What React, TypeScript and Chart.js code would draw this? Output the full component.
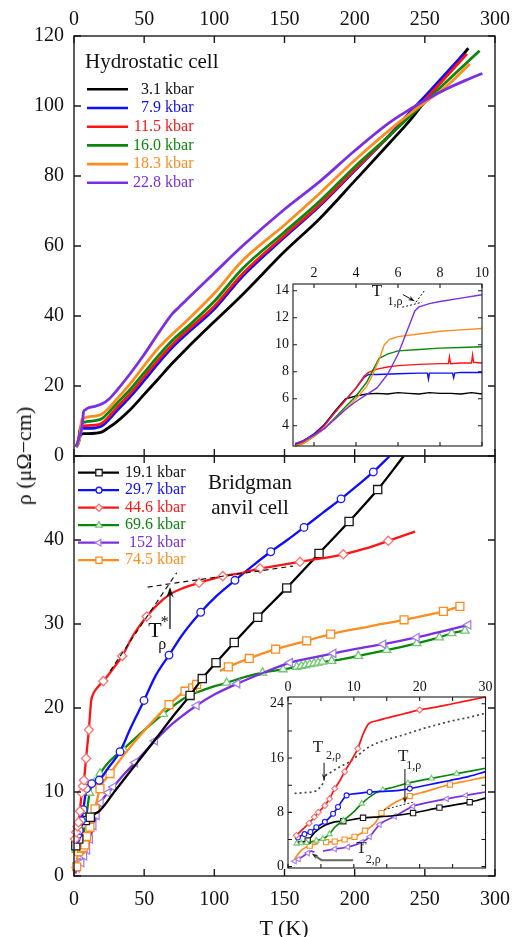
import React, { useEffect, useRef } from "react";
import { Chart, registerables } from "chart.js";

Chart.register(...registerables);

const SERIF = "'Liberation Serif', 'Times New Roman', Times, serif";

const COL_BLACK = "#000000";
const COL_BLUE = "#0d0dff";
const COL_RED = "#ff1414";
const COL_GREEN = "#0b870b";
const COL_ORANGE = "#ff8c1e";
const COL_PURPLE = "#7b2fe2";
const COL_DOT = "#444444";

// ---------- axis ticks ----------
const mainXTicks = [0, 50, 100, 150, 200, 250, 300];
const topYTicks = [0, 20, 40, 60, 80, 100, 120];
const botYTicks = [0, 10, 20, 30, 40, 50];
const botYLabels = [0, 10, 20, 30, 40];
const tiXTicks = [2, 4, 6, 8, 10];
const tiYTicks = [4, 6, 8, 10, 12, 14];
const biXTicks = [0, 5, 10, 15, 20, 25, 30];
const biXLabels = [0, 10, 20, 30];
const biYTicks = [0, 4, 8, 12, 16, 20, 24];
const biYLabels = [0, 8, 16, 24];

// ---------- hydrostatic cell (top panel) ----------
const hydroLabels = ["3.1 kbar", "7.9 kbar", "11.5 kbar", "16.0 kbar", "18.3 kbar", "22.8 kbar"];
const h31T = [1.5, 3, 4, 5, 7, 10, 15, 20, 25, 30, 40, 50, 60, 70, 80, 100, 120, 150, 175, 200, 225, 240, 250, 265, 281];
const h31R = [2.6, 3.8, 5.3, 6.1, 6.4, 6.4, 6.5, 6.9, 8.2, 9.6, 13.2, 17.6, 22.0, 26.5, 30.6, 38.4, 46.1, 58.4, 67.8, 78.6, 89.5, 96.2, 101.3, 108.6, 116.5];
const h79T = [1.5, 3, 4, 4.5, 6, 10, 15, 20, 25, 30, 40, 50, 60, 70, 80, 100, 120, 150, 175, 200, 225, 240, 250, 265, 278];
const h79R = [2.6, 3.8, 6.8, 7.8, 7.9, 7.9, 8.0, 8.6, 10.5, 12.7, 16.9, 21.6, 26.5, 31.0, 34.8, 42.0, 51.3, 62.5, 71.4, 81.5, 91.8, 98.5, 102.7, 109.3, 115.0];
const h115T = [1.5, 3, 4, 4.5, 5, 6, 10, 15, 20, 25, 30, 40, 50, 60, 70, 80, 100, 120, 150, 175, 200, 225, 240, 250, 265, 280];
const h115R = [2.6, 3.8, 6.2, 7.9, 8.3, 8.5, 8.7, 8.8, 9.4, 11.3, 13.6, 17.8, 22.6, 27.4, 31.8, 35.6, 42.8, 52.0, 63.0, 71.8, 81.8, 91.6, 97.8, 101.8, 108.3, 114.9];
const h160T = [1.5, 3, 4, 4.7, 5.2, 6, 8, 10, 15, 20, 25, 30, 40, 50, 60, 70, 80, 100, 120, 150, 175, 200, 225, 240, 250, 265, 289];
const h160R = [2.6, 3.6, 5.0, 7.5, 9.0, 9.5, 9.7, 9.9, 10.1, 10.7, 12.6, 14.8, 19.0, 23.8, 28.6, 33.0, 36.6, 44.2, 53.5, 64.0, 72.8, 82.6, 91.6, 97.3, 101.0, 106.8, 115.8];
const h183T = [1.5, 3, 4, 4.7, 5.3, 6, 7, 10, 15, 20, 25, 30, 40, 50, 60, 70, 80, 100, 120, 150, 175, 200, 225, 240, 250, 265, 282];
const h183R = [2.6, 3.7, 5.0, 7.6, 10.0, 10.6, 10.8, 11.2, 11.4, 12.0, 13.8, 16.0, 20.6, 25.8, 30.8, 34.8, 38.5, 46.5, 55.8, 66.0, 75.0, 84.5, 93.2, 98.0, 101.0, 105.5, 112.0];
const h228T = [1.5, 3, 4, 5, 6, 6.8, 8, 10, 15, 20, 25, 30, 40, 50, 60, 70, 75, 80, 100, 120, 150, 175, 200, 225, 240, 250, 265, 280, 291];
const h228R = [2.7, 4.5, 5.8, 6.8, 9.3, 12.6, 13.2, 13.7, 14.2, 14.9, 16.3, 18.5, 23.5, 29.0, 35.0, 40.6, 42.6, 44.6, 52.3, 60.0, 70.5, 78.4, 87.2, 95.3, 99.2, 101.6, 104.8, 107.5, 109.3];

// ---------- hydrostatic inset (1-10 K) ----------
const tiBlackT = [1.1, 1.5, 2.0, 2.5, 3.0, 3.5, 4.0, 4.5, 5, 5.5, 6, 6.5, 7, 7.5, 8, 8.5, 9, 9.5, 10];
const tiBlackR = [2.6, 2.9, 3.3, 4.1, 5.1, 6.0, 6.2, 6.35, 6.4, 6.35, 6.45, 6.4, 6.35, 6.45, 6.4, 6.4, 6.35, 6.45, 6.35];
const tiBlueT = [1.1, 1.5, 2.0, 2.5, 3.0, 3.5, 4.0, 4.4, 4.6, 5, 6, 7, 7.4, 7.45, 7.5, 8, 8.6, 8.65, 8.7, 9, 10];
const tiBlueR = [2.6, 2.9, 3.4, 4.1, 5.0, 5.9, 6.8, 7.6, 7.8, 7.8, 7.85, 7.9, 7.9, 7.45, 7.9, 7.9, 7.9, 7.55, 7.9, 7.95, 7.95];
const tiRedT = [1.1, 1.5, 2.0, 2.5, 3.0, 3.5, 4.0, 4.4, 4.6, 5.0, 5.5, 6.0, 7.0, 8.0, 8.4, 8.45, 8.5, 9.0, 9.5, 9.55, 9.6, 10];
const tiRedR = [2.5, 2.8, 3.3, 4.0, 5.0, 5.9, 6.8, 7.7, 7.95, 8.2, 8.35, 8.45, 8.55, 8.6, 8.6, 9.1, 8.6, 8.65, 8.65, 9.25, 8.7, 8.65];
const tiGreenT = [1.1, 1.5, 2, 2.5, 3, 3.5, 4, 4.5, 4.8, 5.1, 5.5, 6, 7, 8, 9, 10];
const tiGreenR = [2.5, 2.7, 3.2, 3.8, 4.6, 5.4, 6.2, 7.2, 8.1, 9.0, 9.3, 9.55, 9.65, 9.75, 9.8, 9.85];
const tiOrangeT = [1.1, 1.5, 2, 2.5, 3, 3.5, 4, 4.5, 4.8, 5.1, 5.35, 5.6, 6, 7, 8, 9, 10];
const tiOrangeR = [2.5, 2.7, 3.2, 3.8, 4.5, 5.2, 6.0, 6.9, 7.8, 8.9, 10.0, 10.4, 10.6, 10.8, 11.0, 11.1, 11.2];
const tiPurpleT = [1.1, 1.5, 2, 2.5, 3, 3.5, 4, 4.5, 5, 5.5, 6, 6.5, 6.8, 7, 7.5, 8, 9, 10];
const tiPurpleR = [2.7, 2.9, 3.3, 3.8, 4.5, 5.2, 5.8, 6.3, 6.8, 7.8, 9.3, 11.3, 12.5, 12.8, 13.05, 13.2, 13.45, 13.7];

// ---------- Bridgman anvil cell (bottom panel) ----------
const bridgLabels = ["19.1 kbar", "29.7 kbar", "44.6 kbar", "69.6 kbar", "152 kbar", "74.5 kbar"];
const b191T = [0.7, 1.3, 2.3, 3.4, 4.8, 6.3, 8.1, 11.6, 15, 18.5, 30, 45, 60, 70, 82.7, 91.4, 101.2, 114.2, 130.9, 151.6, 174.6, 196, 216.4, 235];
const b191R = [3.4, 3.6, 3.8, 4.4, 5.6, 6.4, 6.6, 7.0, 7.4, 7.8, 10.3, 13.5, 16.7, 18.9, 21.5, 23.5, 25.4, 27.8, 30.8, 34.3, 38.4, 42.2, 46.0, 50.0];
const b191MarkT = [1.3, 3.4, 8.1, 11.6, 82.7, 91.4, 101.2, 114.2, 130.9, 151.6, 174.6, 196, 216.4];
const b297T = [0.7, 1.5, 2.7, 3.8, 5.3, 6.6, 8.9, 10.5, 12.6, 15, 18, 25, 32.8, 40, 49.9, 58, 67.7, 78, 90.3, 102, 114.7, 127, 140.2, 152, 163.9, 177, 190.3, 202, 213.3, 225];
const b297R = [4.0, 4.4, 4.9, 5.4, 6.6, 7.9, 10.4, 10.9, 11.0, 11.1, 11.4, 13.0, 14.8, 17.5, 20.9, 23.8, 26.3, 28.9, 31.4, 33.4, 35.2, 36.9, 38.6, 40.0, 41.5, 43.2, 44.9, 46.5, 48.1, 50.0];
const b297MarkT = [1.5, 2.7, 3.8, 5.3, 6.6, 8.9, 12.6, 18, 32.8, 49.9, 67.7, 90.3, 114.7, 140.2, 163.9, 190.3, 213.3];
const b446T = [0.7, 1.5, 2.5, 3.2, 4.2, 5.45, 6.3, 7.1, 8.6, 9.6, 10.6, 11.4, 12.2, 13.5, 16, 20.9, 27, 34.4, 42, 51.8, 60, 68, 78, 89.1, 106, 120, 132.5, 147, 161, 176, 191.9, 208, 224, 243];
const b446R = [4.4, 5.2, 5.9, 6.4, 7.7, 9.9, 10.7, 11.4, 14.0, 15.7, 17.4, 19.2, 20.8, 21.6, 22.3, 23.2, 24.5, 26.2, 28.6, 30.9, 32.4, 33.5, 34.3, 34.9, 35.7, 36.1, 36.6, 37.0, 37.4, 37.8, 38.3, 39.0, 39.9, 41.0];
const b446MarkT = [0.7, 1.5, 2.5, 3.2, 4.2, 5.45, 6.3, 7.1, 8.6, 10.6, 20.9, 34.4, 51.8, 89.1, 106, 132.5, 161, 191.9, 224];
const b696T = [0.7, 1.5, 2.5, 4.3, 5.5, 7.8, 9.5, 11.1, 14.4, 18.5, 25, 35.1, 45, 63.6, 80, 95, 108.8, 122, 134.4, 149, 158.7, 162, 165, 168, 171, 174, 177, 183.6, 202.6, 222.8, 244.2, 260.3, 269.1, 278.6];
const b696R = [2.9, 3.1, 3.3, 3.6, 4.1, 6.1, 8.0, 9.9, 11.1, 12.2, 13.6, 15.1, 16.6, 19.3, 21.3, 22.3, 23.0, 23.7, 24.2, 24.6, 24.9, 25.0, 25.1, 25.2, 25.3, 25.4, 25.5, 25.6, 26.2, 26.9, 27.7, 28.4, 28.9, 29.2];
const b696MarkT = [1.5, 2.5, 4.3, 5.5, 7.8, 11.1, 14.4, 18.5, 35.1, 63.6, 108.8, 134.4, 149, 158.7, 162, 165, 168, 171, 174, 177, 183.6, 202.6, 222.8, 244.2, 260.3, 269.1, 278.6];
const b152T = [1.0, 2.0, 3.0, 3.8, 4.6, 5.3, 7.3, 9.4, 11.4, 13.9, 16.2, 19, 24.1, 28, 35, 43.5, 50, 57.7, 70, 87.4, 100, 116.4, 135, 153.9, 170, 184.9, 200, 220.4, 244.2, 262, 281];
const b152R = [0.3, 1.0, 1.6, 2.0, 1.8, 1.6, 2.4, 3.1, 4.4, 6.0, 7.2, 8.7, 9.9, 10.6, 12.0, 13.5, 14.7, 16.1, 18.1, 20.3, 21.6, 22.9, 24.2, 25.4, 26.0, 26.5, 27.0, 27.6, 28.4, 29.1, 29.9];
const b152MarkT = [2.0, 3.0, 5.3, 7.3, 9.4, 11.4, 13.9, 16.2, 19, 24.1, 28, 43.5, 57.7, 87.4, 116.4, 153.9, 184.9, 220.4, 244.2, 281];
const b745LowT = [1.9, 2.3, 3.3, 4.3, 5.3, 6.6, 7.8, 9.0, 11.4, 15, 18.5, 25.7, 35, 50, 67.7, 79.1, 84.6, 87.4];
const b745LowR = [1.1, 2.1, 2.9, 3.6, 3.3, 3.4, 3.7, 4.7, 5.8, 8.0, 10.4, 12.2, 14.3, 17.3, 20.4, 22.0, 22.4, 22.8];
const b745LowMarkT = [1.9, 3.3, 4.3, 5.3, 6.6, 7.8, 9.0, 11.4, 15, 18.5, 25.7, 67.7, 79.1, 84.6, 87.4];
const b745HighT = [104, 110, 124.9, 143.7, 165.8, 182.9, 210, 235.2, 263.2, 275];
const b745HighR = [24.4, 24.9, 25.9, 27.0, 28.0, 28.8, 29.7, 30.5, 31.5, 32.1];
const b745HighMarkT = [110, 124.9, 143.7, 165.8, 182.9, 235.2, 263.2, 275];

// ---------- Bridgman inset (0-30 K) ----------
const biDotT = [1, 2.5, 4.3, 4.8, 5.3, 5.6, 6.5, 7.3, 9.4, 12.4, 15, 17.5, 20, 22.6, 25, 27.5, 30];
const biDotR = [10.8, 10.9, 11.2, 11.6, 12.3, 13.2, 13.9, 14.4, 15.5, 17.7, 18.7, 19.4, 20.2, 20.9, 21.5, 22.0, 22.6];
const biRedT = [1.28, 2.2, 3.2, 4.0, 4.6, 5.6, 6.3, 7.1, 7.9, 8.6, 9.6, 10.6, 11.4, 12.2, 13.5, 15, 17.5, 20, 22.5, 25, 27.5, 30];
const biRedR = [4.6, 5.5, 6.4, 7.3, 8.0, 9.0, 10.0, 11.5, 12.7, 14.0, 15.6, 17.4, 19.5, 21.0, 21.5, 21.9, 22.5, 23.1, 23.5, 24.0, 24.5, 25.0];
const biRedMarkT = [1.28, 3.2, 4.0, 4.6, 5.6, 6.3, 7.1, 8.6, 10.6, 20];
const biBlueT = [1.5, 2.5, 3.4, 4.3, 5.6, 6.85, 7.6, 8.9, 10.7, 12.4, 14.6, 16.5, 18.5, 21, 24.6, 27.5, 30];
const biBlueR = [4.3, 4.8, 5.1, 5.8, 6.6, 7.8, 8.8, 10.5, 10.8, 11.0, 11.1, 11.2, 11.5, 12.0, 12.7, 13.3, 14.0];
const biBlueMarkT = [1.5, 2.5, 3.4, 4.3, 5.6, 6.85, 7.6, 8.9, 12.4, 18.5];
const biBlackT = [1.5, 3.0, 4.1, 5.6, 7.1, 8.4, 11.4, 13.2, 16, 19, 23, 27.6, 30];
const biBlackR = [3.6, 3.85, 5.1, 6.1, 6.6, 6.7, 7.2, 7.3, 7.5, 7.9, 8.7, 9.5, 10.1];
const biBlackMarkT = [3.0, 8.4, 11.4, 19, 23, 27.6];
const biGreenT = [1.3, 2.0, 2.8, 4.3, 5.3, 6.3, 7.1, 8.4, 9.9, 11.2, 13.2, 14.4, 16, 18.2, 21.8, 25.6, 30];
const biGreenR = [3.4, 3.45, 3.5, 3.85, 4.1, 4.8, 5.8, 6.8, 8.0, 9.3, 10.8, 11.3, 11.7, 12.3, 13.0, 13.7, 14.5];
const biGreenMarkT = [1.3, 2.0, 2.8, 4.3, 5.3, 6.3, 8.4, 11.2, 14.4, 18.2, 21.8, 25.6];
const biOrange1T = [1.0, 2.0, 3.3, 4.6];
const biOrange1R = [1.1, 2.4, 3.1, 3.4];
const biOrange1MarkT = [3.3];
const biOrange2T = [5.3, 5.8, 7.1, 8.6, 10.1, 11.7, 13.2, 14.2, 16, 18.5, 21, 24.6, 27.5, 30];
const biOrange2R = [3.45, 3.6, 3.7, 4.0, 4.4, 5.3, 6.4, 7.9, 9.3, 10.4, 11.1, 12.1, 12.7, 13.2];
const biOrange2MarkT = [5.8, 7.1, 8.6, 10.1, 11.7, 14.2, 18.5, 24.6];
const biPurple1T = [1.0, 1.6, 2.4, 3.0, 3.55, 4.0];
const biPurple1R = [0.8, 1.1, 1.6, 2.0, 2.3, 2.1];
const biPurple1MarkT = [1.0, 1.6, 3.0];
const biPurple2T = [5.3, 7.1, 9.1, 11.2, 12.4, 13.9, 16.2, 19, 21, 24.1, 27, 30];
const biPurple2R = [2.3, 2.6, 2.9, 3.6, 4.4, 6.2, 7.4, 8.9, 9.4, 10.0, 10.5, 11.0];
const biPurple2MarkT = [7.1, 9.1, 11.2, 12.4, 13.9, 16.2, 19, 24.1, 27];

// ---------- marker styles ----------
const MK_BLACK = { style: "rect", r: 5.8, rot: 0, border: "#1a1a1a" };
const MK_BLUE = { style: "circle", r: 3.8, rot: 0, border: "#1a1aff" };
const MK_RED = { style: "rectRot", r: 4.6, rot: 0, border: "#ff6e6e" };
const MK_GREEN = { style: "triangle", r: 4.8, rot: 0, border: "#6fc86f" };
const MK_PURPLE = { style: "triangle", r: 4.8, rot: 270, border: "#a57ff0" };
const MK_ORANGE = { style: "rect", r: 5.6, rot: 0, border: "#ff8c1e" };

const hydroColors = [COL_BLACK, COL_BLUE, COL_RED, COL_GREEN, COL_ORANGE, COL_PURPLE];
const bridgColors = [COL_BLACK, COL_BLUE, COL_RED, COL_GREEN, COL_PURPLE, COL_ORANGE];
const bridgMarkers = [MK_BLACK, MK_BLUE, MK_RED, MK_GREEN, MK_PURPLE, MK_ORANGE];

// ---------- helpers ----------
function pts(T: number[], R: number[]) {
  return T.map((t, i) => ({ x: t, y: R[i] }));
}

function lineDs(T: number[], R: number[], color: string, lw: number, extra: any = {}) {
  return {
    data: pts(T, R),
    borderColor: color,
    backgroundColor: color,
    borderWidth: lw,
    pointRadius: 0,
    pointHoverRadius: 0,
    cubicInterpolationMode: "monotone",
    fill: false,
    ...extra,
  };
}

function markedDs(T: number[], R: number[], markT: number[], color: string, lw: number, mk: any, scale: number) {
  const marks = new Set(markT);
  return lineDs(T, R, color, lw, {
    pointRadius: (c: any) => (marks.has(T[c.dataIndex]) ? mk.r * scale : 0),
    pointStyle: mk.style,
    pointRotation: mk.rot,
    pointBorderColor: mk.border,
    pointBackgroundColor: "#ffffff",
    pointBorderWidth: scale < 1 ? 1.1 : 1.3,
  });
}

function axis(min: number, max: number, position: string, labels: number[], o: any) {
  return {
    type: "linear",
    min,
    max,
    position,
    display: o.display === undefined ? true : o.display,
    grid: { display: false, drawTicks: false },
    border: { display: false },
    ticks: {
      autoSkip: false,
      maxRotation: 0,
      minRotation: 0,
      padding: o.pad || 0,
      color: "#111",
      font: { family: SERIF, size: o.size || 12 },
    },
    afterBuildTicks: (s: any) => {
      s.ticks = labels.map((v) => ({ value: v }));
    },
    afterFit: (s: any) => {
      if (o.w !== undefined) s.width = o.w;
      if (o.h !== undefined) s.height = o.h;
      s.paddingLeft = 0;
      s.paddingRight = 0;
      s.paddingTop = 0;
      s.paddingBottom = 0;
    },
  };
}

function baseConfig(datasets: any[], scales: any, padding: any, plugin: any) {
  return {
    type: "line",
    data: { datasets },
    options: {
      responsive: false,
      animation: false,
      events: [],
      clip: false,
      layout: { padding, autoPadding: false },
      plugins: { legend: { display: false }, tooltip: { enabled: false }, title: { display: false } },
      scales,
    },
    plugins: [plugin],
  };
}

function drawFrame(chart: any, xT: number[], yT: number[], len: number, lw: number) {
  const { ctx, chartArea: a } = chart;
  const xs = chart.scales.x;
  const ys = chart.scales.y;
  ctx.save();
  ctx.strokeStyle = "#1a1a1a";
  ctx.lineWidth = lw;
  ctx.beginPath();
  for (const v of xT) {
    const p = xs.getPixelForValue(v);
    ctx.moveTo(p, a.top);
    ctx.lineTo(p, a.top + len);
    ctx.moveTo(p, a.bottom);
    ctx.lineTo(p, a.bottom - len);
  }
  for (const v of yT) {
    const p = ys.getPixelForValue(v);
    ctx.moveTo(a.left, p);
    ctx.lineTo(a.left + len, p);
    ctx.moveTo(a.right, p);
    ctx.lineTo(a.right - len, p);
  }
  ctx.stroke();
  ctx.strokeRect(a.left, a.top, a.right - a.left, a.bottom - a.top);
  ctx.restore();
}

function drawMarker(ctx: any, mk: any, x: number, y: number, r: number) {
  ctx.save();
  ctx.beginPath();
  let a = ((mk.rot || 0) * Math.PI) / 180;
  if (mk.style === "rect") {
    const s = r * Math.SQRT1_2;
    ctx.rect(x - s, y - s, 2 * s, 2 * s);
  } else if (mk.style === "circle") {
    ctx.arc(x, y, r, 0, Math.PI * 2);
  } else if (mk.style === "rectRot") {
    ctx.moveTo(x - r, y);
    ctx.lineTo(x, y - r);
    ctx.lineTo(x + r, y);
    ctx.lineTo(x, y + r);
    ctx.closePath();
  } else {
    ctx.moveTo(x + Math.sin(a) * r, y - Math.cos(a) * r);
    a += (2 * Math.PI) / 3;
    ctx.lineTo(x + Math.sin(a) * r, y - Math.cos(a) * r);
    a += (2 * Math.PI) / 3;
    ctx.lineTo(x + Math.sin(a) * r, y - Math.cos(a) * r);
    ctx.closePath();
  }
  ctx.fillStyle = "#ffffff";
  ctx.fill();
  ctx.strokeStyle = mk.border;
  ctx.lineWidth = 1.3;
  ctx.stroke();
  ctx.restore();
}

function seg(ctx: any, x1: number, y1: number, x2: number, y2: number, color: string, lw: number, dash: number[] = []) {
  ctx.save();
  ctx.strokeStyle = color;
  ctx.lineWidth = lw;
  ctx.setLineDash(dash);
  ctx.beginPath();
  ctx.moveTo(x1, y1);
  ctx.lineTo(x2, y2);
  ctx.stroke();
  ctx.restore();
}

function arrowHead(ctx: any, x1: number, y1: number, x2: number, y2: number, color: string, head: number) {
  const ang = Math.atan2(y2 - y1, x2 - x1);
  ctx.save();
  ctx.fillStyle = color;
  ctx.beginPath();
  ctx.moveTo(x2, y2);
  ctx.lineTo(x2 - head * Math.cos(ang - 0.33), y2 - head * Math.sin(ang - 0.33));
  ctx.lineTo(x2 - head * 0.65 * Math.cos(ang), y2 - head * 0.65 * Math.sin(ang));
  ctx.lineTo(x2 - head * Math.cos(ang + 0.33), y2 - head * Math.sin(ang + 0.33));
  ctx.closePath();
  ctx.fill();
  ctx.restore();
}

function arrow(ctx: any, x1: number, y1: number, x2: number, y2: number, color: string, lw: number, head: number) {
  const ang = Math.atan2(y2 - y1, x2 - x1);
  seg(ctx, x1, y1, x2 - head * 0.5 * Math.cos(ang), y2 - head * 0.5 * Math.sin(ang), color, lw);
  arrowHead(ctx, x1, y1, x2, y2, color, head);
}

function text(ctx: any, s: string, x: number, y: number, size: number, color: string, align = "center") {
  ctx.save();
  ctx.font = `${size}px ${SERIF}`;
  ctx.fillStyle = color;
  ctx.textAlign = align;
  ctx.textBaseline = "middle";
  ctx.fillText(s, x, y);
  ctx.restore();
}

// ---------- chart configs ----------
function topConfig() {
  const T = [h31T, h79T, h115T, h160T, h183T, h228T];
  const R = [h31R, h79R, h115R, h160R, h183R, h228R];
  const datasets = T.map((t, i) => lineDs(t, R[i], hydroColors[i], 2.8)).reverse();
  const plugin = {
    id: "topDecor",
    afterDraw(chart: any) {
      const ctx = chart.ctx;
      drawFrame(chart, mainXTicks, topYTicks, 7, 1.4);
      text(ctx, "Hydrostatic cell", 85, 62, 21, "#111", "left");
      hydroLabels.forEach((lab, i) => {
        const y = 89.3 + i * 18.7;
        seg(ctx, 87, y, 128, y, hydroColors[i], 2.6);
        text(ctx, lab, 193.5, y, 16, hydroColors[i] === COL_BLACK ? "#111" : hydroColors[i], "right");
      });
    },
  };
  return baseConfig(
    datasets,
    {
      x: axis(0, 300, "top", mainXTicks, { size: 20, pad: 4, h: 36 }),
      y: axis(0, 120, "left", topYTicks, { size: 20, pad: 10, w: 74 }),
    },
    { left: 0, right: 17, top: 0, bottom: 14 },
    plugin
  );
}

function bottomConfig() {
  const datasets = [
    markedDs(b446T, b446R, b446MarkT, COL_RED, 2.3, MK_RED, 1),
    markedDs(b297T, b297R, b297MarkT, COL_BLUE, 2.3, MK_BLUE, 1),
    markedDs(b191T, b191R, b191MarkT, COL_BLACK, 2.3, MK_BLACK, 1),
    markedDs(b745LowT, b745LowR, b745LowMarkT, COL_ORANGE, 2.3, MK_ORANGE, 1),
    markedDs(b745HighT, b745HighR, b745HighMarkT, COL_ORANGE, 2.3, MK_ORANGE, 1),
    markedDs(b152T, b152R, b152MarkT, COL_PURPLE, 2.3, MK_PURPLE, 1),
    markedDs(b696T, b696R, b696MarkT, COL_GREEN, 2.3, MK_GREEN, 1),
  ];
  const plugin = {
    id: "botDecor",
    afterDraw(chart: any) {
      const ctx = chart.ctx;
      const xs = chart.scales.x;
      const ys = chart.scales.y;
      const px = (v: number) => xs.getPixelForValue(v);
      const py = (v: number) => ys.getPixelForValue(v);
      drawFrame(chart, mainXTicks, botYTicks, 7, 1.4);
      // legend
      bridgLabels.forEach((lab, i) => {
        const y = 26.7 + i * 17.5;
        seg(ctx, 78, y, 119, y, bridgColors[i], 2.2);
        drawMarker(ctx, bridgMarkers[i], 99, y, bridgMarkers[i].r * 0.78);
        text(ctx, lab, 185.5, y, 16, bridgColors[i] === COL_BLACK ? "#111" : bridgColors[i], "right");
      });
      text(ctx, "Bridgman", 250, 37.3, 21, "#111");
      text(ctx, "anvil cell", 250, 62.3, 21, "#111");
      // T* annotation
      seg(ctx, px(52.5), py(34.4), px(156), py(36.9), "#111", 1.2, [5, 4]);
      seg(ctx, px(25.7), py(24.4), px(73.2), py(36.1), "#111", 1.2, [5, 4]);
      arrow(ctx, px(68.4), py(29.4), px(68.4), py(34.4), "#111", 1.3, 11);
      text(ctx, "T", px(57.7), py(29.2), 22, "#111");
      text(ctx, "*", px(64.6), py(30.1), 16, "#111");
      text(ctx, "ρ", px(62.9), py(27.5), 16, "#111");
    },
  };
  return baseConfig(
    datasets,
    {
      x: axis(0, 300, "bottom", mainXTicks, { size: 20, pad: 12, h: 61 }),
      y: axis(0, 50, "left", botYLabels, { size: 20, pad: 10, w: 74 }),
    },
    { left: 0, right: 17, top: 10, bottom: 0 },
    plugin
  );
}

function topInsetConfig() {
  const T = [tiBlackT, tiBlueT, tiRedT, tiGreenT, tiOrangeT, tiPurpleT];
  const R = [tiBlackR, tiBlueR, tiRedR, tiGreenR, tiOrangeR, tiPurpleR];
  const datasets = T.map((t, i) => lineDs(t, R[i], hydroColors[i], 1.4, { cubicInterpolationMode: "default", tension: 0 })).reverse();
  const plugin = {
    id: "tiDecor",
    afterDraw(chart: any) {
      const ctx = chart.ctx;
      const xs = chart.scales.x;
      const ys = chart.scales.y;
      const px = (v: number) => xs.getPixelForValue(v);
      const py = (v: number) => ys.getPixelForValue(v);
      drawFrame(chart, tiXTicks, tiYTicks, 4, 1.1);
      seg(ctx, px(6.2), py(12.78), px(7.15), py(13.15), "#111", 1, [2, 2]);
      seg(ctx, px(6.85), py(13.15), px(7.28), py(14.05), "#111", 1, [2, 2]);
      arrow(ctx, px(6.23), py(13.72), px(6.8), py(13.22), "#111", 1, 7);
      text(ctx, "T", px(5.0), py(13.93), 17, "#111");
      text(ctx, "1,ρ", px(5.86), py(13.17), 12, "#111");
    },
  };
  return baseConfig(
    datasets,
    {
      x: axis(1, 10, "top", tiXTicks, { size: 14, pad: 2, h: 22 }),
      y: axis(2.5, 14.5, "left", tiYTicks, { size: 14, pad: 4, w: 31 }),
    },
    { left: 0, right: 16, top: 0, bottom: 6 },
    plugin
  );
}

function botInsetConfig() {
  const s = 0.65;
  const lw = 1.7;
  const datasets = [
    markedDs(biRedT, biRedR, biRedMarkT, COL_RED, lw, MK_RED, s),
    lineDs(biDotT, biDotR, COL_DOT, 1.7, { borderDash: [2, 3] }),
    markedDs(biBlueT, biBlueR, biBlueMarkT, COL_BLUE, lw, MK_BLUE, s),
    markedDs(biGreenT, biGreenR, biGreenMarkT, COL_GREEN, lw, MK_GREEN, s),
    markedDs(biBlackT, biBlackR, biBlackMarkT, COL_BLACK, lw, MK_BLACK, s),
    markedDs(biOrange1T, biOrange1R, biOrange1MarkT, COL_ORANGE, lw, MK_ORANGE, s),
    markedDs(biOrange2T, biOrange2R, biOrange2MarkT, COL_ORANGE, lw, MK_ORANGE, s),
    markedDs(biPurple1T, biPurple1R, biPurple1MarkT, COL_PURPLE, lw, MK_PURPLE, s),
    markedDs(biPurple2T, biPurple2R, biPurple2MarkT, COL_PURPLE, lw, MK_PURPLE, s),
  ];
  const plugin = {
    id: "biDecor",
    afterDraw(chart: any) {
      const ctx = chart.ctx;
      const xs = chart.scales.x;
      const ys = chart.scales.y;
      const px = (v: number) => xs.getPixelForValue(v);
      const py = (v: number) => ys.getPixelForValue(v);
      drawFrame(chart, biXTicks, biYTicks, 4, 1.1);
      // upper T2
      text(ctx, "T", px(4.56), py(17.5), 17, "#222");
      text(ctx, "2,ρ", px(6.9), py(16.4), 12, "#222");
      arrow(ctx, px(5.48), py(15.3), px(5.48), py(12.7), "#222", 1.1, 7);
      // T1
      text(ctx, "T", px(17.5), py(16.2), 17, "#222");
      text(ctx, "1,ρ", px(19.1), py(14.8), 12, "#222");
      arrow(ctx, px(17.76), py(14.4), px(17.76), py(9.3), "#222", 1.1, 7);
      seg(ctx, px(14.6), py(8.4), px(19.0), py(9.5), "#333", 1, [2, 2]);
      // lower T2
      text(ctx, "T", px(11.17), py(2.7), 17, "#222");
      text(ctx, "2,ρ", px(12.95), py(0.95), 12, "#222");
      ctx.save();
      ctx.strokeStyle = "#666";
      ctx.lineWidth = 2;
      ctx.beginPath();
      ctx.moveTo(px(9.9), py(0.95));
      ctx.lineTo(px(5.1), py(0.95));
      ctx.lineTo(px(4.2), py(1.55));
      ctx.stroke();
      ctx.restore();
      arrowHead(ctx, px(5.1), py(0.95), px(3.6), py(1.95), "#222", 7);
    },
  };
  return baseConfig(
    datasets,
    {
      x: axis(0, 30, "top", biXLabels, { size: 14, pad: 1, h: 22 }),
      y: axis(-0.2, 25, "left", biYLabels, { size: 14, pad: 4, w: 33 }),
    },
    { left: 0, right: 14.5, top: 0, bottom: 7 },
    plugin
  );
}

export default function App() {
  const topRef = useRef<HTMLCanvasElement>(null);
  const botRef = useRef<HTMLCanvasElement>(null);
  const tiRef = useRef<HTMLCanvasElement>(null);
  const biRef = useRef<HTMLCanvasElement>(null);

  useEffect(() => {
    const charts: any[] = [];
    if (topRef.current) charts.push(new Chart(topRef.current, topConfig() as any));
    if (botRef.current) charts.push(new Chart(botRef.current, bottomConfig() as any));
    if (tiRef.current) charts.push(new Chart(tiRef.current, topInsetConfig() as any));
    if (biRef.current) charts.push(new Chart(biRef.current, botInsetConfig() as any));
    return () => charts.forEach((c) => c.destroy());
  }, []);

  const abs = (l: number, t: number, w: number, h: number): any => ({
    position: "absolute",
    left: l,
    top: t,
    width: w,
    height: h,
  });

  return (
    <div style={{ position: "absolute", left: 0, top: 0, width: 512, height: 937, overflow: "hidden", background: "#ffffff" }}>
      <canvas ref={topRef} width={512} height={470} style={abs(0, 0, 512, 470)} />
      <canvas ref={botRef} width={512} height={491} style={abs(0, 446, 512, 491)} />
      <canvas ref={tiRef} width={236} height={190} style={abs(262, 262, 236, 190)} />
      <canvas ref={biRef} width={245} height={200} style={abs(255, 675, 245, 200)} />
      <div
        style={{
          position: "absolute",
          left: 24,
          top: 456,
          transform: "translate(-50%, -50%) rotate(-90deg)",
          font: `22px ${SERIF}`,
          lineHeight: "1",
          whiteSpace: "nowrap",
          color: "#111",
        }}
      >
        ρ (μΩ−cm)
      </div>
      <div
        style={{
          position: "absolute",
          left: 284,
          top: 928,
          transform: "translate(-50%, -50%)",
          font: `22px ${SERIF}`,
          lineHeight: "1",
          whiteSpace: "nowrap",
          color: "#111",
        }}
      >
        T (K)
      </div>
    </div>
  );
}
